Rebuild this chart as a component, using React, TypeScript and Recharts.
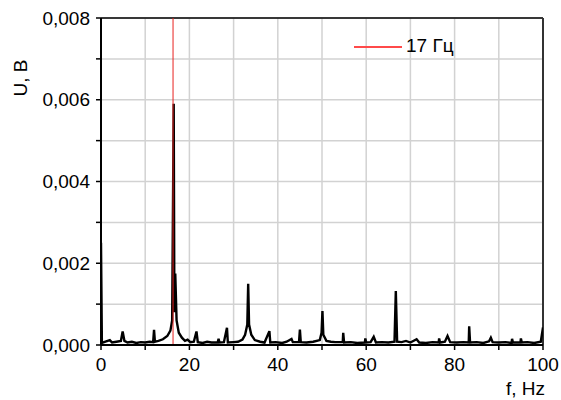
import { LineChart, Line, XAxis, YAxis, CartesianGrid, ReferenceLine, Legend } from 'recharts';

// spectrum, f in Hz, U in volts
const FREQ = [
  0, 0.2, 1, 2, 2.5, 3.5, 4.5, 4.9, 5.3, 6, 7, 8, 9, 10, 11, 11.8, 12, 12.2, 13, 14,
  15, 15.7, 16.1, 16.45, 16.6, 16.8, 17.1, 17.6, 18.3, 19, 19.6, 20.2, 21, 21.6, 21.9, 23, 24, 25,
  26.4, 26.6, 26.8, 27.8, 28.5, 28.7, 30, 31, 32, 32.6, 33.1, 33.3, 33.5, 34, 34.8, 36, 37,
  38.1, 38.3, 39.5, 41, 42, 43.1, 43.4, 44.8, 45, 45.2, 46.5, 48, 49.5, 49.9, 50.1, 50.3, 51,
  52, 53, 54.7, 54.8, 55, 56.5, 58, 59.7, 59.8, 60, 61, 61.7, 62.2, 63.5, 65, 66.4, 66.7, 67,
  68, 69, 70, 71.4, 72, 73.5, 75, 76.4, 76.5, 76.7, 77.8, 78.4, 79, 80.5, 82, 83.2, 83.3, 83.5,
  85, 86.5, 87.8, 88.2, 88.6, 90, 91.5, 92.9, 93, 93.2, 94.9, 95, 95.2, 96.5, 98, 99.5, 100,
];
const AMP = [
  0.0025, 0.00005, 0.00008, 0.00012, 0.00006, 0.00008, 0.0001, 0.00033, 0.0001, 0.00006, 0.00008, 0.00005, 0.00007, 0.00006, 0.00008, 0.00007, 0.00037, 0.00008, 0.0001, 0.00014,
  0.00022, 0.00035, 0.0006, 0.0059, 0.0008, 0.00175, 0.0006, 0.0003, 0.00018, 0.0001, 0.00013, 0.00007, 0.00008, 0.00033, 0.00007, 0.00005, 0.00008, 0.00006,
  0.00006, 0.00015, 0.00006, 0.00007, 0.00042, 0.00006, 0.00007, 0.00008, 0.00013, 0.00025, 0.0005, 0.0015, 0.0005, 0.00025, 0.00012, 0.00008, 0.00006,
  0.00034, 0.00006, 0.00007, 0.00005, 0.00008, 0.00015, 0.00007, 0.00007, 0.00038, 0.00007, 0.00006, 0.00008, 0.00012, 0.0003, 0.00083, 0.00025, 0.0001,
  0.00008, 0.00007, 0.00007, 0.0003, 0.00006, 0.00007, 0.00005, 0.00006, 0.00016, 0.00006, 0.00007, 0.0002, 0.00006, 0.00007, 0.00006, 0.00008, 0.00132, 0.00008,
  0.00007, 0.0001, 0.00006, 0.00014, 0.00006, 0.00005, 0.00007, 0.00006, 0.00016, 0.00006, 0.00008, 0.00022, 0.00007, 0.00006, 0.00007, 0.00006, 0.00046, 0.00006,
  0.00007, 0.00005, 0.00009, 0.00018, 0.00007, 0.00006, 0.00007, 0.00005, 0.00015, 0.00006, 0.00006, 0.00016, 0.00006, 0.00007, 0.00005, 0.00008, 0.00043,
];

// marker line for the 17 Hz component
const MARKER_F = 16.3;
const MARKER_U = [0, 0.008];

const X_TICKS = [0, 10, 20, 30, 40, 50, 60, 70, 80, 90, 100];
const Y_TICKS = [0, 0.001, 0.002, 0.003, 0.004, 0.005, 0.006, 0.007, 0.008];

const spectrum = FREQ.map((f, i) => ({ f, u: AMP[i] }));
const marker = MARKER_U.map((u) => ({ f: MARKER_F, m: u }));

const FONT = '"Liberation Sans", Arial, sans-serif';
const tickStyle = { fontSize: 19, fill: '#000', fontFamily: FONT };

export default function App() {
  return (
    <div style={{ position: 'absolute', left: 0, top: 0, background: '#fff' }}>
      <LineChart width={561} height={400} margin={{ top: 18, right: 18, bottom: 25, left: 0 }}>
        <CartesianGrid stroke="#d2d2d2" strokeWidth={1.5} />
        <XAxis
          dataKey="f"
          type="number"
          domain={[0, 100]}
          ticks={X_TICKS}
          allowDataOverflow
          height={30}
          tick={tickStyle}
          tickSize={5}
          tickMargin={8}
          axisLine={{ stroke: '#000', strokeWidth: 2 }}
          tickLine={{ stroke: '#000', strokeWidth: 1.5 }}
          tickFormatter={(v: number) => (v % 20 === 0 ? String(v) : '')}
          label={{
            content: ({ viewBox }: any) => (
              <text x={viewBox.x + viewBox.width + 2} y={viewBox.y + 50} textAnchor="end" fontSize={19} fontFamily={FONT} fill="#000">
                f, Hz
              </text>
            ),
          }}
        />
        <YAxis
          type="number"
          domain={[0, 0.008]}
          ticks={Y_TICKS}
          allowDataOverflow
          width={101}
          tick={tickStyle}
          tickSize={5}
          tickMargin={6}
          axisLine={{ stroke: '#000', strokeWidth: 2 }}
          tickLine={{ stroke: '#000', strokeWidth: 1.5 }}
          tickFormatter={(v: number) => {
            const k = Math.round(v * 1000);
            return k % 2 === 0 ? v.toFixed(3).replace('.', ',') : '';
          }}
          label={{
            content: ({ viewBox }: any) => (
              <text
                x={viewBox.x + 20}
                y={viewBox.y + 60}
                textAnchor="middle"
                dominantBaseline="central"
                fontSize={19}
                fontFamily={FONT}
                fill="#000"
                transform={`rotate(-90 ${viewBox.x + 20} ${viewBox.y + 60})`}
              >
                U, B
              </text>
            ),
          }}
        />
        <ReferenceLine y={0.008} stroke="#000" strokeWidth={1.5} />
        <ReferenceLine x={100} stroke="#333" strokeWidth={2} />
        <Line
          data={spectrum}
          dataKey="u"
          type="linear"
          stroke="#000"
          strokeWidth={2.4}
          dot={false}
          legendType="none"
          isAnimationActive={false}
        />
        <Line
          data={marker}
          dataKey="m"
          name="17 Гц"
          type="linear"
          stroke="#e8211f"
          strokeWidth={1}
          dot={false}
          isAnimationActive={false}
        />
        <Legend
          wrapperStyle={{ position: 'absolute', left: 354, top: 34, width: 'auto', height: 0, overflow: 'visible' }}
          content={({ payload }: any) => (
            <div style={{ fontFamily: FONT, fontSize: 19, color: '#000', height: 0 }}>
              {(payload || [])
                .filter((p: any) => p.type !== 'none')
                .map((p: any) => (
                  <div key={p.value} style={{ display: 'flex', alignItems: 'center' }}>
                    <svg width={50} height={24}>
                      <line x1={0} y1={13} x2={48} y2={13} stroke="#ff4a4a" strokeWidth={2} />
                    </svg>
                    <span style={{ marginLeft: 2 }}>{p.value}</span>
                  </div>
                ))}
            </div>
          )}
        />
      </LineChart>
    </div>
  );
}
